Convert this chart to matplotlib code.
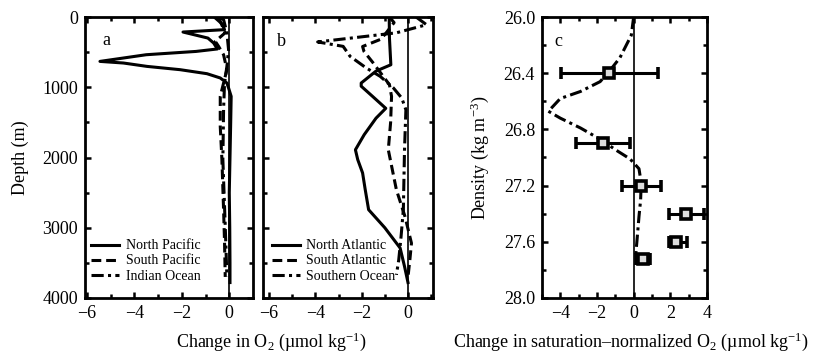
import matplotlib
matplotlib.use("Agg")
import matplotlib.pyplot as plt
import numpy as np

plt.rcParams['font.family'] = ['Liberation Serif', 'DejaVu Serif']
plt.rcParams['mathtext.fontset'] = 'custom'
plt.rcParams['mathtext.rm'] = 'Liberation Serif'
plt.rcParams['mathtext.it'] = 'Liberation Serif:italic'

# ---- Panel a data (depth m, change in O2) ----
np_depth = [10, 100, 180, 214, 300, 370, 455, 490, 537, 632, 655, 703, 750, 807, 868, 940, 1010, 1130, 1500, 2000, 2500, 3000, 3500, 3780]
np_val = [-0.6, -0.3, -0.2, -1.95, -0.9, -0.66, -0.5, -1.4, -3.5, -5.45, -4.46, -3.47, -2.07, -0.94, -0.38, -0.1, -0.03, 0.08, 0.06, 0.03, 0.0, 0.02, 0.03, 0.03]
sp_depth = [10, 62, 224, 347, 418, 537, 750, 940, 1130, 1557, 2031, 2743, 3200, 3700]
sp_val = [-0.45, -0.38, -0.17, -0.59, -0.45, -0.24, -0.1, -0.24, -0.38, -0.38, -0.31, -0.24, -0.2, -0.17]
io_depth = [10, 38, 224, 465, 703, 940, 1320, 2031, 2980, 3700]
io_val = [-0.4, -0.24, -0.1, -0.03, -0.1, -0.2, -0.24, -0.27, -0.17, -0.1]

# ---- Panel b data ----
na_depth = [15, 300, 680, 770, 940, 985, 1130, 1300, 1440, 1675, 1890, 2030, 2220, 2450, 2743, 3000, 3288, 3550, 3780]
na_val = [-0.81, -0.8, -0.74, -1.38, -2.02, -2.02, -1.53, -0.96, -1.38, -1.89, -2.27, -2.17, -1.96, -1.85, -1.7, -1.0, -0.34, -0.15, 0.0]
sa_depth = [0, 80, 250, 320, 420, 490, 655, 964, 1130, 1500, 1890, 2460, 2840, 3220, 3460, 3700]
sa_val = [-0.8, -0.6, -1.0, -1.2, -1.96, -1.9, -1.5, -0.8, -0.71, -0.75, -0.85, -0.5, -0.13, 0.15, 0.08, 0.0]
so_depth = [0, 110, 225, 355, 418, 560, 726, 845, 1010, 1153, 1320, 1890, 2740, 3130, 3460, 3670]
so_val = [0.35, 0.8, -0.5, -3.9, -2.8, -2.5, -1.8, -1.2, -0.63, -0.27, -0.09, -0.15, -0.2, -0.3, -0.4, -0.5]

# ---- Panel c data (density, saturation-normalized O2) ----
c_dens = [26.0, 26.13, 26.29, 26.38, 26.46, 26.53, 26.58, 26.65, 26.67, 26.72, 26.79, 26.87, 26.95, 27.01, 27.08, 27.18, 27.3, 27.42, 27.53, 27.70]
c_val = [0.0, -0.13, -0.75, -1.29, -1.83, -2.9, -4.0, -4.5, -4.66, -4.0, -2.9, -1.83, -0.93, -0.2, 0.29, 0.41, 0.38, 0.29, 0.22, 0.11]
pt_dens = [26.4, 26.9, 27.2, 27.4, 27.6, 27.72]
pt_val = [-1.33, -1.69, 0.39, 2.83, 2.33, 0.5]
pt_lo = [-3.95, -3.12, -0.66, 1.94, 1.90, 0.14]
pt_hi = [1.31, -0.22, 1.49, 3.82, 2.92, 0.90]

W, H = 813, 357
fig = plt.figure(figsize=(W / 100, H / 100), dpi=100)

def rect(l, r, t, b):
    return [l / W, 1 - b / H, (r - l) / W, (b - t) / H]

ax_a = fig.add_axes(rect(85, 253, 17, 298))
ax_b = fig.add_axes(rect(263, 433, 17, 298))
ax_c = fig.add_axes(rect(542, 707, 17, 298))

LW = 2.2
dash = (3.2, 1.6)
dashdot = (4.0, 1.4, 1.0, 1.4)
FS = 13

def style(ax):
    for s in ax.spines.values():
        s.set_linewidth(2.0)
    ax.tick_params(which='both', direction='in', top=True, right=True, width=1.8, labelsize=FS, pad=5)
    ax.tick_params(which='major', length=4)
    ax.tick_params(which='minor', length=3)

leg_kw = dict(loc='lower left', frameon=False, fontsize=10, handlelength=2.0,
              borderaxespad=0.0, labelspacing=0.15, handletextpad=0.5, borderpad=0.2)

# panel a
ax_a.axvline(0, color='black', lw=1.2)
ax_a.plot(np_val, np_depth, color='black', lw=LW, label='North Pacific')
ax_a.plot(sp_val, sp_depth, color='black', lw=LW, dashes=dash, label='South Pacific')
ax_a.plot(io_val, io_depth, color='black', lw=LW, dashes=dashdot, label='Indian Ocean')
ax_a.set_xlim(-6.08, 1.0)
ax_a.set_ylim(4000, 0)
ax_a.set_xticks([-6, -4, -2, 0])
ax_a.set_xticks(np.arange(-6, 1, 1), minor=True)
ax_a.set_yticks([0, 1000, 2000, 3000, 4000])
ax_a.set_yticks(np.arange(0, 4001, 500), minor=True)
ax_a.set_ylabel('Depth (m)', fontsize=FS)
ax_a.yaxis.set_label_coords(-0.335, 0.5)
ax_a.text(0.125, 0.918, 'a', transform=ax_a.transAxes, fontsize=FS, ha='center', va='center')
ax_a.legend(bbox_to_anchor=(0.02, 0.045), **leg_kw)
style(ax_a)

# panel b
ax_b.axvline(0, color='black', lw=1.2)
ax_b.plot(na_val, na_depth, color='black', lw=LW, label='North Atlantic')
ax_b.plot(sa_val, sa_depth, color='black', lw=LW, dashes=dash, label='South Atlantic')
ax_b.plot(so_val, so_depth, color='black', lw=LW, dashes=dashdot, label='Southern Ocean')
ax_b.set_xlim(-6.26, 1.08)
ax_b.set_ylim(4000, 0)
ax_b.set_xticks([-6, -4, -2, 0])
ax_b.set_xticks(np.arange(-6, 2, 1), minor=True)
ax_b.set_yticks([0, 1000, 2000, 3000, 4000])
ax_b.set_yticks(np.arange(0, 4001, 500), minor=True)
ax_b.set_yticklabels([])
ax_b.text(0.11, 0.913, 'b', transform=ax_b.transAxes, fontsize=FS, ha='center', va='center')
ax_b.legend(bbox_to_anchor=(0.035, 0.045), **leg_kw)
style(ax_b)

# panel c
ax_c.axvline(0, color='black', lw=1.2)
ax_c.plot(c_val, c_dens, color='black', lw=LW, dashes=dashdot)
xerr = [np.array(pt_val) - np.array(pt_lo), np.array(pt_hi) - np.array(pt_val)]
ax_c.errorbar(pt_val, pt_dens, xerr=xerr, fmt='s', color='black', mfc='#dddddd', mec='black',
              ms=6.5, mew=2.6, elinewidth=2.2, capsize=4, capthick=2.2, zorder=5)
ax_c.set_xlim(-5, 4)
ax_c.set_ylim(28.0, 26.0)
ax_c.set_xticks([-4, -2, 0, 2, 4])
ax_c.set_xticks(np.arange(-5, 5, 1), minor=True)
ax_c.set_yticks(np.arange(26.0, 28.01, 0.4))
ax_c.set_yticks(np.arange(26.0, 28.01, 0.2), minor=True)
ax_c.set_yticklabels(['%.1f' % v for v in np.arange(26.0, 28.01, 0.4)])
ax_c.set_ylabel('Density (kg m$^{-3}$)', fontsize=FS)
ax_c.yaxis.set_label_coords(-0.31, 0.5)
ax_c.text(0.097, 0.913, 'c', transform=ax_c.transAxes, fontsize=FS, ha='center', va='center')
style(ax_c)

fig.text(271 / W, 1 - 342 / H, 'Change in O$_2$ (µmol kg$^{-1}$)', fontsize=FS, ha='center', va='center')
fig.text(631 / W, 1 - 342 / H, 'Change in saturation\u2013normalized O$_2$ (µmol kg$^{-1}$)',
         fontsize=FS, ha='center', va='center')

fig.savefig('out.png', dpi=100)
